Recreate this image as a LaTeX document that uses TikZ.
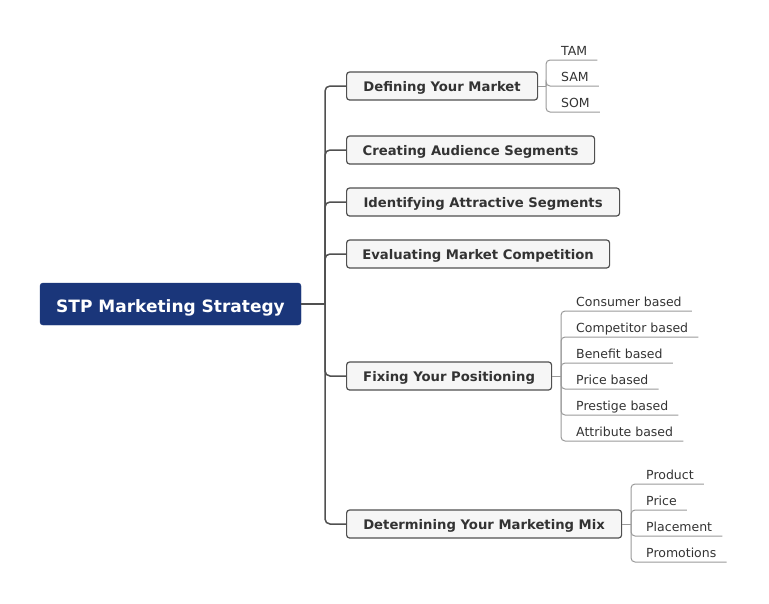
\documentclass[tikz,border=0pt]{standalone}
\usepackage{fontspec}
\setmainfont{DejaVu Sans}
\definecolor{rootblue}{HTML}{1A367A}
\definecolor{topicfill}{HTML}{F6F6F6}
\definecolor{topicline}{HTML}{505050}
\definecolor{textgray}{HTML}{333333}
\definecolor{trunkgray}{HTML}{505050}
\definecolor{twiggray}{HTML}{9A9A9A}
\tikzset{
 rootbox/.style={fill=rootblue, draw=rootblue, rounded corners=3pt, text=white,
   font=\fontsize{17}{20}\selectfont\bfseries, minimum width=261pt, minimum height=42pt, inner sep=0pt,
   text height=16.4pt, text depth=0pt},
 topic/.style={fill=topicfill, draw=topicline, line width=1.2pt, rounded corners=3pt, text=textgray,
   font=\fontsize{13.2}{15}\selectfont\bfseries, minimum height=28pt, inner sep=0pt, anchor=west,
   text height=11pt, text depth=0pt},
 leaf/.style={anchor=south west, text=textgray, font=\fontsize{12.5}{14}\selectfont,
   inner xsep=10pt, inner ysep=0pt, text height=9pt, text depth=4pt},
 trunk/.style={draw=trunkgray, line width=1.5pt, rounded corners=5pt},
 twig/.style={draw=twiggray, line width=1pt, rounded corners=4pt},
}
\begin{document}
\begin{tikzpicture}[x=1pt,y=-1pt]
\useasboundingbox (0,0) rectangle (769,603);
% root
\node[rootbox] (root) at (170.5,304) {STP Marketing Strategy};
% topics
\node[topic, minimum width=191pt] (t1) at (346,86) {Defining Your Market};
\node[topic, minimum width=248pt] (t2) at (346,150) {Creating Audience Segments};
\node[topic, minimum width=273pt] (t3) at (346,202) {Identifying Attractive Segments};
\node[topic, minimum width=263pt] (t4) at (346,254) {Evaluating Market Competition};
\node[topic, minimum width=205pt] (t5) at (346,376) {Fixing Your Positioning};
\node[topic, minimum width=275pt] (t6) at (346,524) {Determining Your Marketing Mix};
% trunk
\coordinate (tr) at (325,304);
\draw[trunk] (root.east) -- (tr);
\foreach \t in {t1,t2,t3,t4,t5,t6} {\draw[trunk] (tr) |- (\t.west);}
% leaves of t1
\coordinate (b1) at (546,86);
\node[leaf] (l11) at (551,60) {TAM};
\node[leaf] (l12) at (551,86) {SAM};
\node[leaf] (l13) at (551,112) {SOM};
\draw[twig] (t1.east) -- (b1);
\foreach \l in {l11,l12,l13} {\draw[twig] (b1) |- (\l.south east);}
% leaves of t5
\coordinate (b5) at (561,376);
\node[leaf] (l51) at (566,311) {Consumer based};
\node[leaf] (l52) at (566,337) {Competitor based};
\node[leaf] (l53) at (566,363) {Benefit based};
\node[leaf] (l54) at (566,389) {Price based};
\node[leaf] (l55) at (566,415) {Prestige based};
\node[leaf] (l56) at (566,441) {Attribute based};
\draw[twig] (t5.east) -- (b5);
\foreach \l in {l51,l52,l53,l54,l55,l56} {\draw[twig] (b5) |- (\l.south east);}
% leaves of t6
\coordinate (b6) at (631,524);
\node[leaf] (l61) at (636,484) {Product};
\node[leaf] (l62) at (636,510) {Price};
\node[leaf] (l63) at (636,536) {Placement};
\node[leaf] (l64) at (636,562) {Promotions};
\draw[twig] (t6.east) -- (b6);
\foreach \l in {l61,l62,l63,l64} {\draw[twig] (b6) |- (\l.south east);}
\end{tikzpicture}
\end{document}
